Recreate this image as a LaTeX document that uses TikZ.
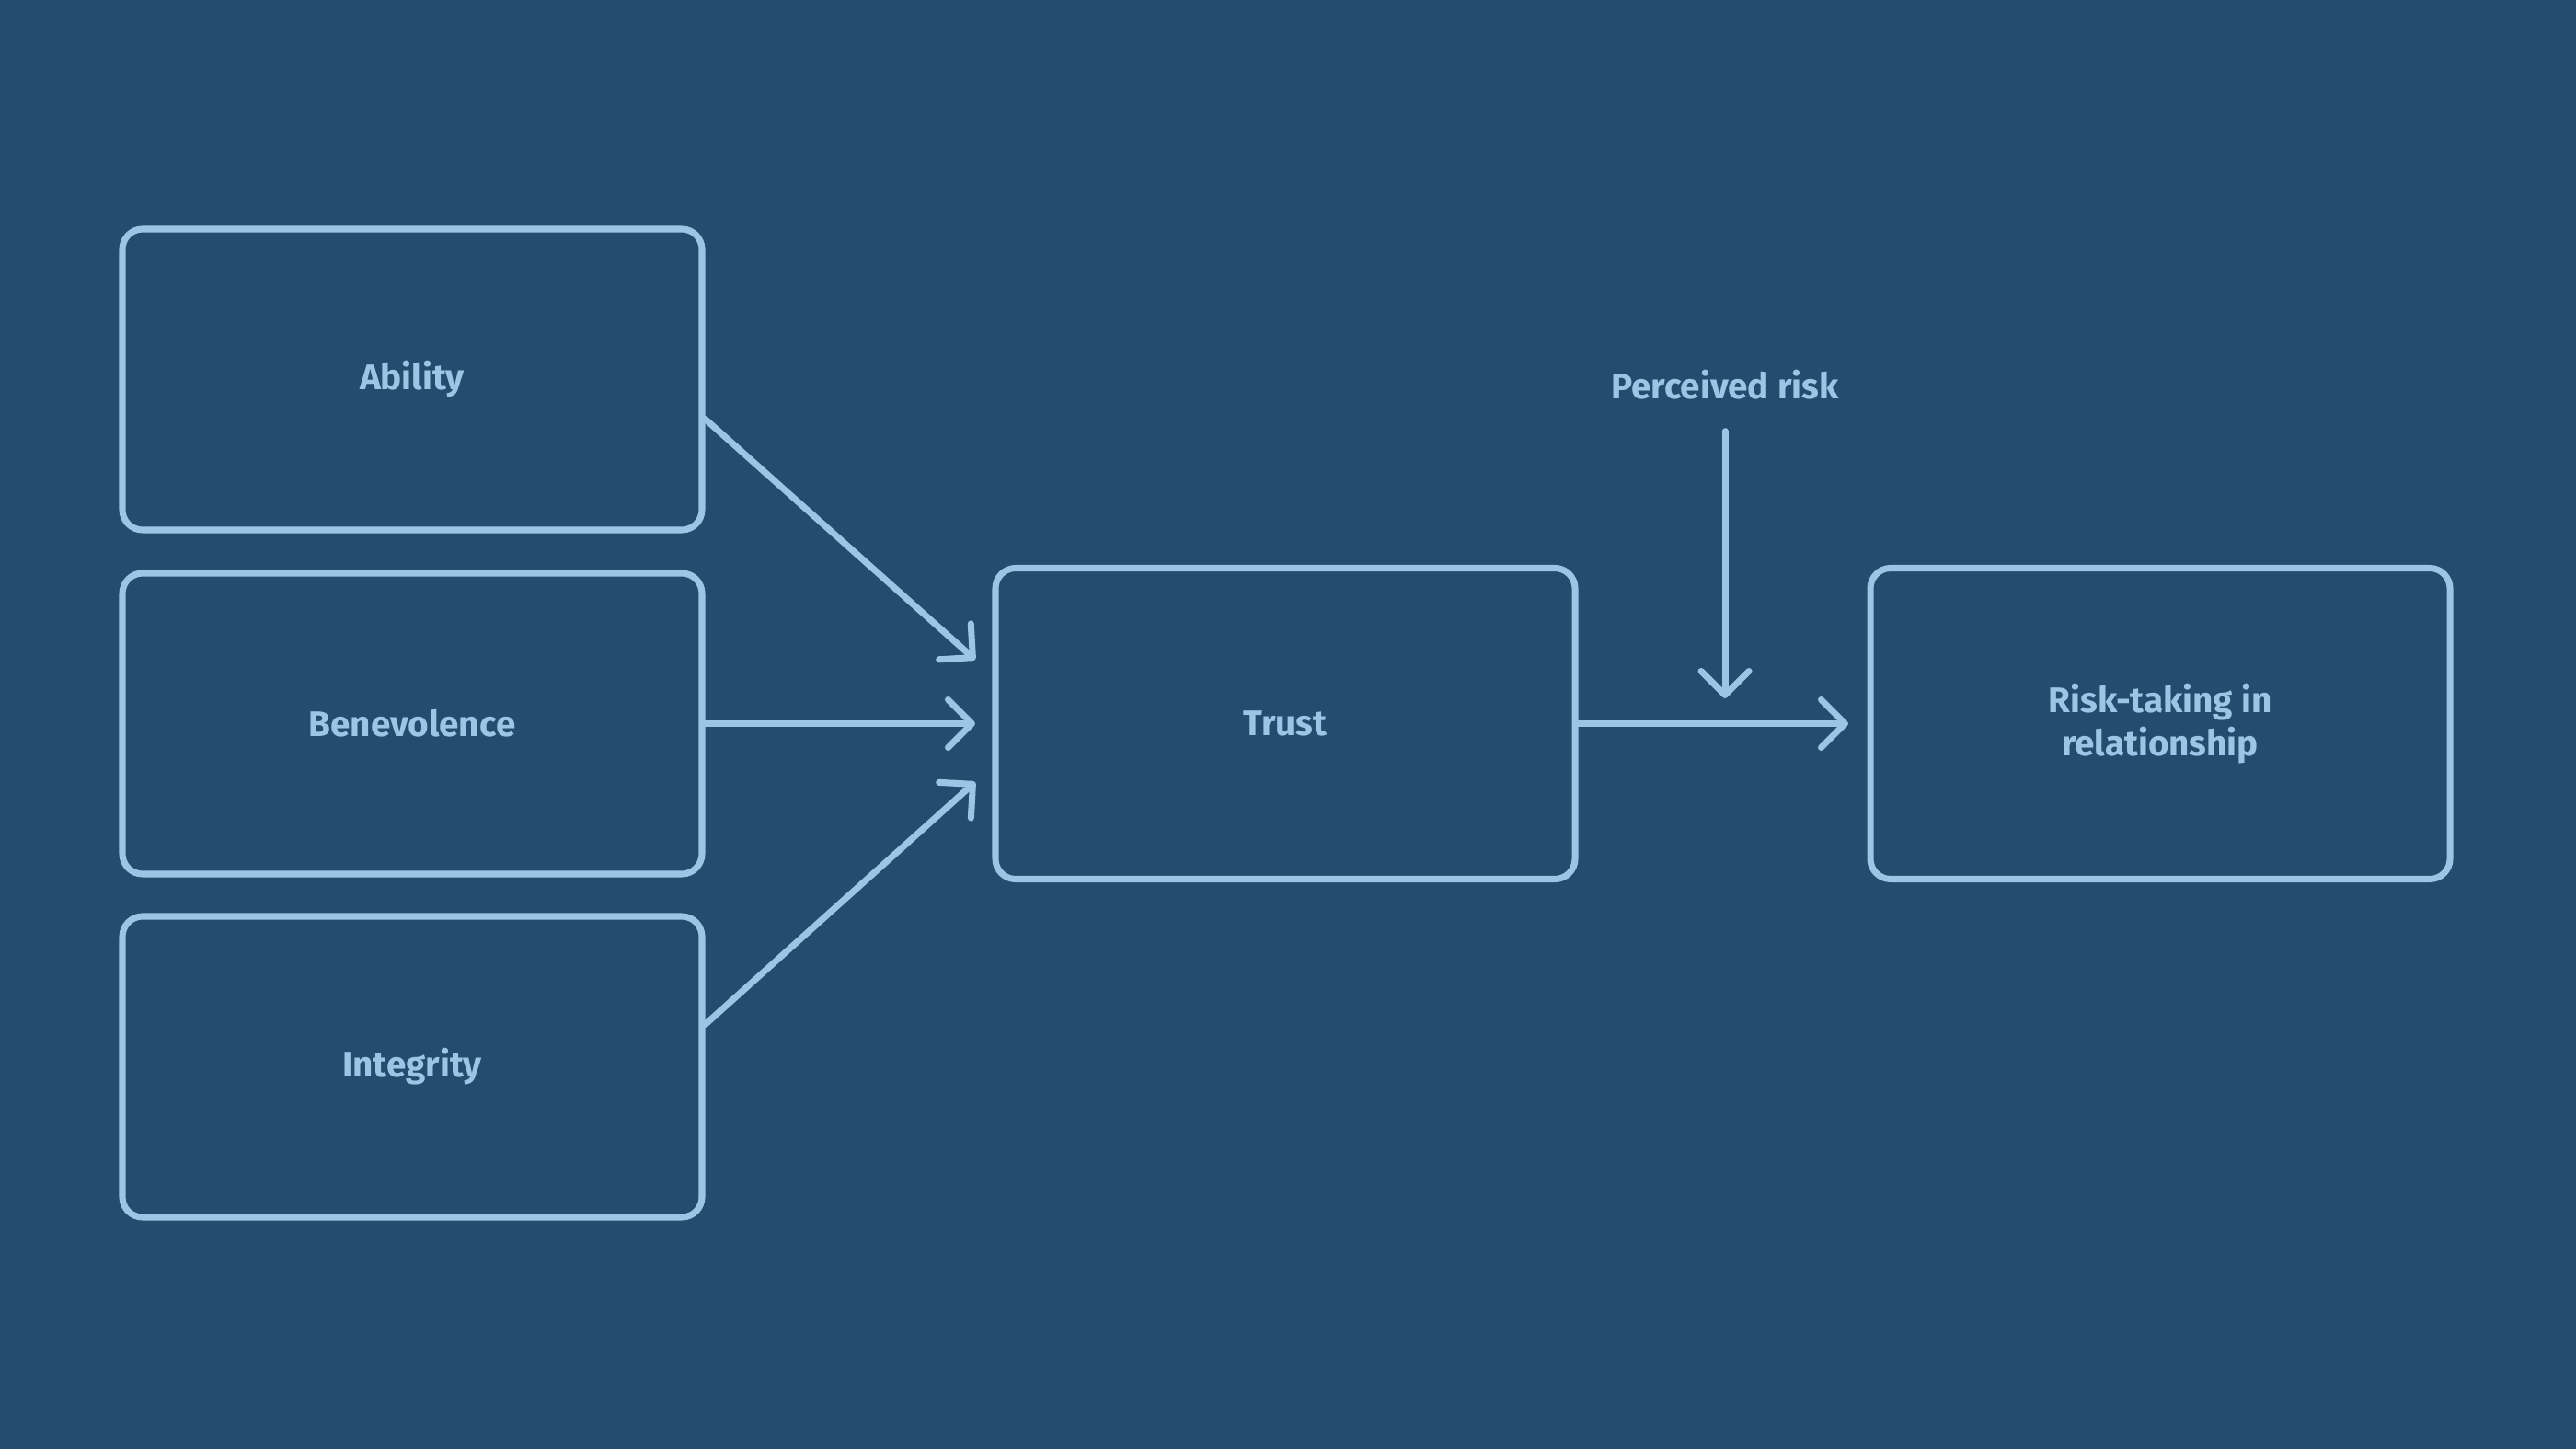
\documentclass[tikz,border=0pt]{standalone}
\usepackage{fontspec}
\setmainfont{Fira Sans}
\usepackage{tikz}
\usetikzlibrary{arrows.meta,shapes,calc}

\definecolor{bgblue}{HTML}{254C6F}
\definecolor{lineblue}{HTML}{9DC4E4}

\begin{document}
\begin{tikzpicture}[font=\fontsize{11pt}{13.5pt}\selectfont\bfseries,
  factor/.style={draw=lineblue, line width=2pt, rounded corners=0.22cm,
    minimum width=6.3cm, minimum height=3.27cm, text=lineblue, align=center},
  arr/.style={draw=lineblue, line width=2pt, line cap=round,
    -{Straight Barb[length=2.6mm,width=5.2mm,round]}}]
\fill[bgblue] (0,0) rectangle (28,15.75);
\node [factor] (ab) at (4.48,11.625) {Ability};
\node [factor] (be) at (4.48,7.885) {Benevolence};
\node [factor] (in) at (4.48,4.155) {Integrity};
\node [factor, minimum height=3.38cm] (tr) at (13.97,7.885) {Trust};
\node [factor, minimum height=3.38cm] (rk) at (23.48,7.885) {Risk-taking in\\relationship};
\node [text=lineblue, minimum height=1cm, inner sep=0pt] (pr) at (18.75,11.57) {Perceived risk};
\coordinate (t1) at (10.6,8.58);
\coordinate (t2) at (10.6,7.885);
\coordinate (t3) at (10.6,7.25);
\coordinate (r1) at (20.09,7.885);
\coordinate (p1) at (18.75,8.16);
\path[arr] ([yshift=-0.43cm]ab.east) -- (t1);
\path[arr] (be.east) -- (t2);
\path[arr] ([yshift=0.46cm]in.east) -- (t3);
\path[arr] (tr.east) -- (r1);
\path[arr] (pr) -- (p1);
\end{tikzpicture}
\end{document}
